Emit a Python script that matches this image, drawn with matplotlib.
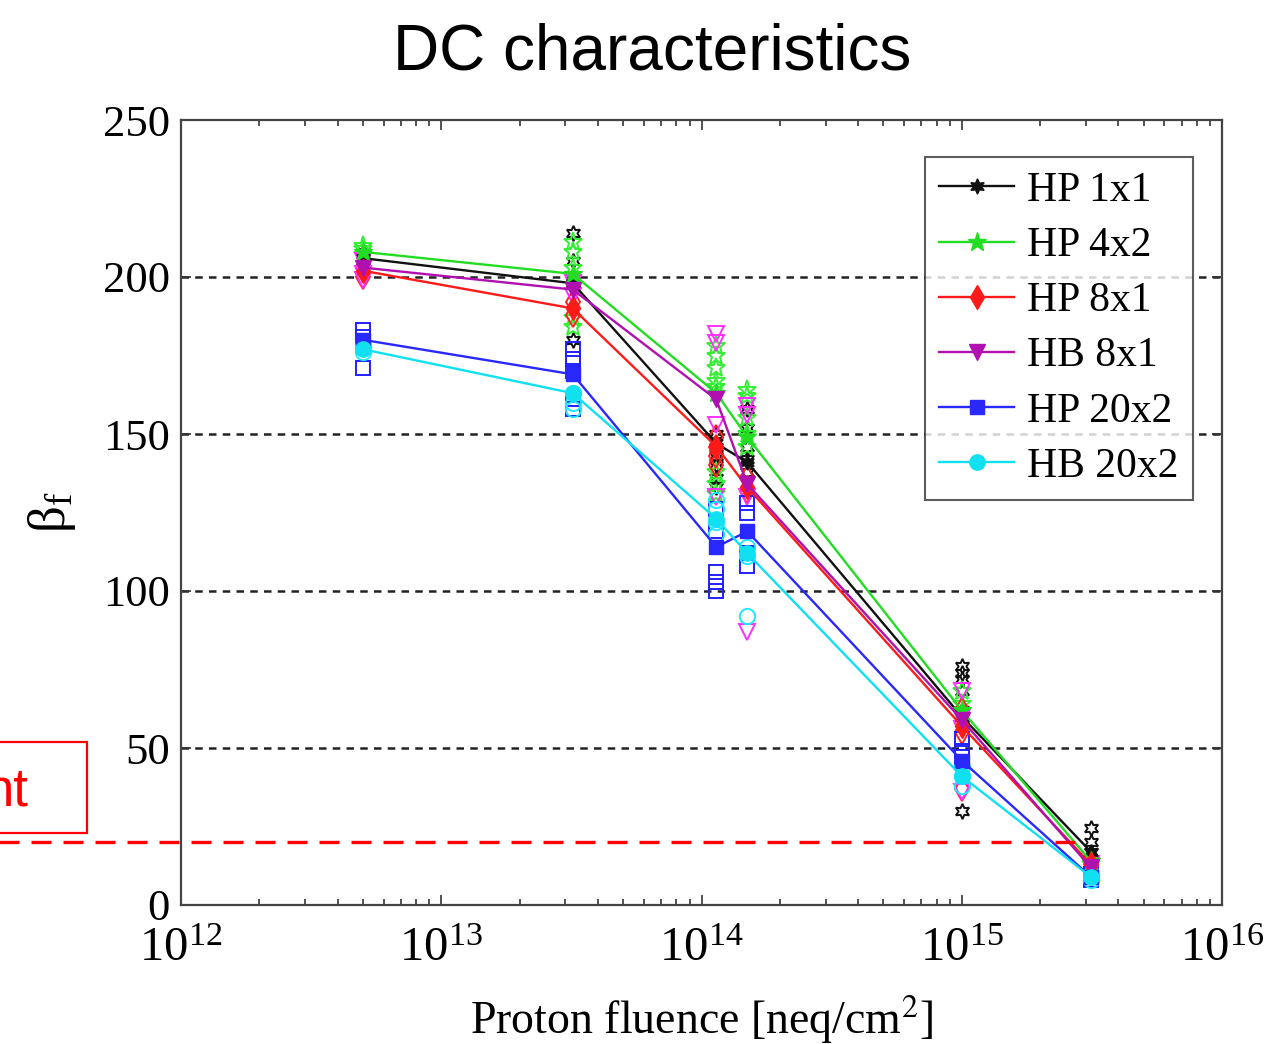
import numpy as np
import matplotlib
matplotlib.use("Agg")
import matplotlib.pyplot as plt
from matplotlib.patches import Rectangle

plt.rcParams['font.family'] = ['Liberation Serif', 'DejaVu Serif']
plt.rcParams['mathtext.fontset'] = 'stix'

# fluence points (neq/cm^2)
fluence = [5e12, 3.2e13, 1.14e14, 1.5e14, 1e15, 3.13e15]

labels = ['HP 1x1', 'HP 4x2', 'HP 8x1', 'HB 8x1', 'HP 20x2', 'HB 20x2']

# mean beta per series (line + filled marker)
hp1x1_mean = [206, 198, 147, 141, 60, 17]
hp4x2_mean = [208, 201, 163, 149, 62, 14]
hp8x1_mean = [202, 190, 146, 133, 57, 13]
hb8x1_mean = [203, 196, 161, 134, 59, 12]
hp20x2_mean = [180, 169, 114, 119, 46, 9]
hb20x2_mean = [177, 163, 123, 112, 41, 9]

# individual devices (open markers), one list per fluence
hp1x1_pts = [[208, 205], [214, 205, 198, 180], [150, 146, 143, 140, 136, 133],
             [158, 152, 146, 142, 138], [76, 74, 72, 68, 62, 30], [24.5, 20, 17]]
hp4x2_pts = [[210, 209, 207], [211, 208, 203, 187, 184], [178, 175, 171, 167, 165, 138, 134, 131],
             [164, 162, 155, 150, 146], [68, 64], [14, 13]]
hp8x1_pts = [[203, 200], [192, 188], [149, 146, 143, 140],
             [136, 132], [62, 58, 55, 37], [13, 12]]
hb8x1_pts = [[205, 201, 199], [198, 194], [182, 179, 153, 130],
             [159, 156, 130, 87], [68, 60, 56, 36], [13, 12]]
hp20x2_pts = [[183, 181, 171], [177, 174, 170, 161, 158], [126, 119, 106, 103, 100],
              [128, 125, 112, 108], [53, 49, 47], [10, 8]]
hb20x2_pts = [[178, 176], [163, 160, 158], [129, 126, 122, 118],
              [114, 111, 92], [44, 41, 38], [10, 8]]

threshold = 20
threshold_x = [1e11, 2.8e15]

means = [hp1x1_mean, hp4x2_mean, hp8x1_mean, hb8x1_mean, hp20x2_mean, hb20x2_mean]
pts = [hp1x1_pts, hp4x2_pts, hp8x1_pts, hb8x1_pts, hp20x2_pts, hb20x2_pts]
line_colors = ['#111111', '#22dd22', '#ff1a1a', '#b010b0', '#2828ff', '#10e0f0']
open_colors = ['#111111', '#33ee33', '#ff2020', '#ff30ff', '#2020ff', '#20e8ff']
markers = [(6, 1, 0), '*', 'd', 'v', 's', 'o']
msize = [11, 14, 12, 12, 10, 11]

fig = plt.figure(figsize=(12.71, 10.44), dpi=100)
ax = fig.add_axes([181/1271, 1-905/1044, (1222-181)/1271, (905-120)/1044])

# open markers for each device
for p, c, m, s in zip(pts, open_colors, markers, msize):
    for x, vals in zip(fluence, p):
        ax.plot([x]*len(vals), vals, linestyle='none', marker=m, markersize=s,
                markerfacecolor='none', markeredgecolor=c, markeredgewidth=1.4, zorder=3)

# mean lines
for mv, c, m, s, lab in zip(means, line_colors, markers, msize, labels):
    ax.plot(fluence, mv, color=c, linewidth=1.7, marker=m, markersize=s,
            markerfacecolor=c, markeredgecolor=c, label=lab, zorder=4)

ax.set_xscale('log')
ax.set_xlim(1e12, 1e16)
ax.set_ylim(0, 250)
ax.set_yticks([0, 50, 100, 150, 200, 250])

for yv in [50, 100, 150, 200]:
    ax.axhline(yv, color='#222222', linewidth=1.8, linestyle=(0, (3, 2.5)), zorder=1)

ax.tick_params(which='both', direction='in', top=True, right=True,
               color='#333333', width=1.2)
ax.tick_params(which='major', length=7)
ax.tick_params(which='minor', length=4)
ax.tick_params(axis='y', pad=8, labelsize=32)
ax.tick_params(axis='x', pad=16, labelsize=35)
for sp in ax.spines.values():
    sp.set_linewidth(1.6)
    sp.set_color('#444444')

ax.set_xlabel(r'Proton fluence [neq/cm$^2$]', fontsize=33, labelpad=16)
ax.set_ylabel(r'β$_\mathregular{f}$', fontsize=38, labelpad=18)

leg = ax.legend(loc='upper right', bbox_to_anchor=(0.972, 0.953), fontsize=30,
                frameon=True, fancybox=False, edgecolor='#333333', handlelength=1.8,
                labelspacing=0.4, borderpad=0.35, handletextpad=0.3, borderaxespad=0)
leg.get_frame().set_linewidth(1.5)

# red threshold line extends outside the axes
ax.plot(threshold_x, [threshold, threshold], color='#ff0000', linewidth=2.4,
        linestyle=(0, (6, 3.6)), clip_on=False, zorder=5)

fig.patches.append(Rectangle((-0.01, 1-833/1044), 100/1271, 91/1044, transform=fig.transFigure,
                             fill=False, edgecolor='#ff0000', linewidth=1.6))
fig.text(28/1271, 1-805/1044, 'nt', color='#ff0000', fontsize=38, ha='right', va='baseline',
         family=['Liberation Sans', 'DejaVu Sans'])

fig.text(652/1271, 1-52/1044, 'DC characteristics', fontsize=46, ha='center', va='center',
         family=['Liberation Sans', 'DejaVu Sans'])

fig.savefig('out.png', dpi=100)
